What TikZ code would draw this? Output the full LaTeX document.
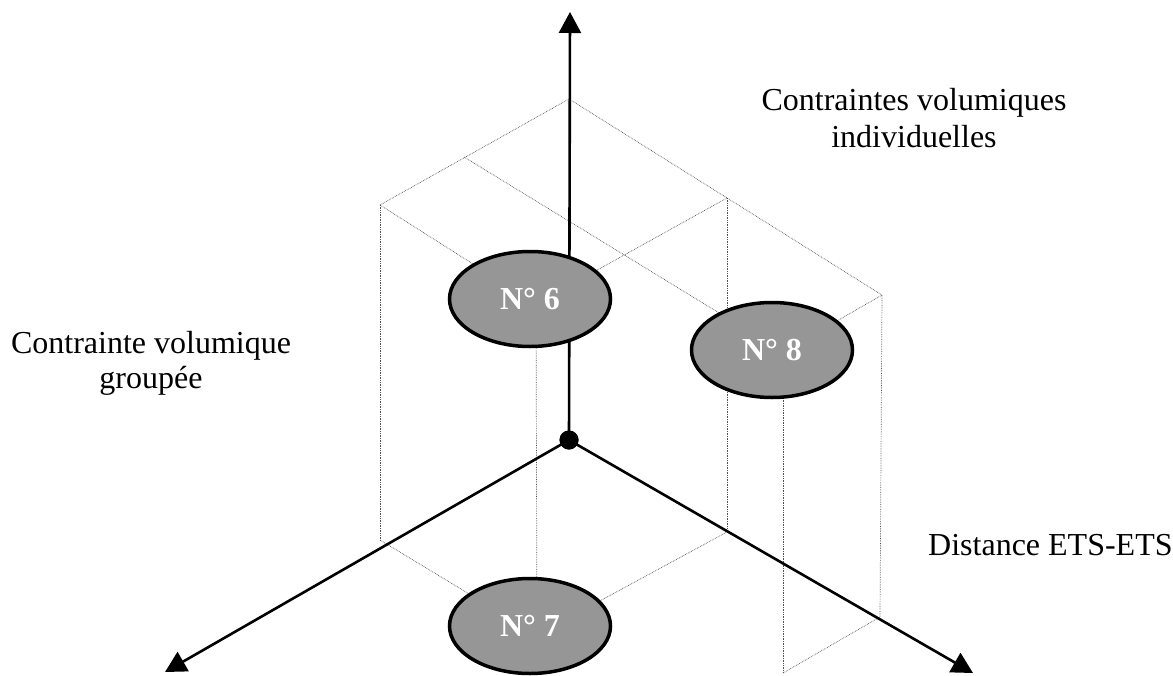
\documentclass[tikz,border=0pt]{standalone}
\usepackage{fontspec}
\setmainfont{Liberation Serif}
\usetikzlibrary{shapes.geometric,arrows.meta}
\definecolor{ovalgray}{RGB}{150,150,150}
\definecolor{gridgray}{RGB}{80,80,80}
\begin{document}
\begin{tikzpicture}[x=1pt,y=-1pt,
  wire/.style={densely dotted, line width=0.7pt, draw=gridgray},
  axis/.style={line width=2.6pt, -{Triangle[length=21pt,width=22pt]}},
  oval/.style={ellipse, draw=black, line width=3.5pt, fill=ovalgray, minimum width=161pt, minimum height=95pt, inner sep=0pt, text=white, font=\fontsize{32}{36}\selectfont\bfseries},
  lbl/.style={font=\fontsize{32}{36}\selectfont, inner sep=0pt, anchor=base}]
\useasboundingbox (0,0) rectangle (1173,675);
% wireframe corners
\coordinate (T) at (569,99);
\coordinate (L) at (380,205);
\coordinate (R) at (882,295);
\coordinate (M1) at (464,157);
\coordinate (M2) at (727,198);
\coordinate (F1) at (536,304);
\coordinate (F2) at (783,352);
\coordinate (BL) at (380,540);
\coordinate (F1b) at (537,635);
\coordinate (M2b) at (727,532);
\coordinate (Rb) at (880,617);
\coordinate (F2b) at (783,673);
% wireframe
\draw[wire] (T) -- (R);
\draw[wire] (T) -- (L);
\draw[wire] (M1) -- (F2);
\draw[wire] (M2) -- (F1);
\draw[wire] (L) -- (F1);
\draw[wire] (R) -- (F2);
\draw[wire] (L) -- (BL);
\draw[wire] (F1) -- (F1b);
\draw[wire] (M2) -- (M2b);
\draw[wire] (R) -- (Rb);
\draw[wire] (F2) -- (F2b);
\draw[wire] (BL) -- (F1b) -- (M2b);
\draw[wire] (F2b) -- (Rb);
% axes
\node[circle, fill=black, inner sep=0pt, minimum size=19pt] (O) at (569,440) {};
\coordinate (up) at (570,12);
\coordinate (lefttip) at (165,672);
\coordinate (righttip) at (973,673);
\draw[axis] (O.center) -- (up);
\draw[axis] (O.center) -- (lefttip);
\draw[axis] (O.center) -- (righttip);
% ovals
\node[oval] (n6) at (530,299) {N° 6};
\node[oval] (n8) at (772,350) {N° 8};
\node[oval] (n7) at (530,626) {N° 7};
\node[circle, fill=black, inner sep=0pt, minimum size=19pt] (Odot) at (569,440) {};
% labels
\node[lbl] (g1) at (151,353) {Contrainte volumique};
\node[lbl] (g2) at (151,388) {groupée};
\node[lbl] (i1) at (914,110) {Contraintes volumiques};
\node[lbl] (i2) at (914,147) {individuelles};
\node[lbl, anchor=base west] (d1) at (928,555) {Distance ETS-ETS};
\end{tikzpicture}
\end{document}
